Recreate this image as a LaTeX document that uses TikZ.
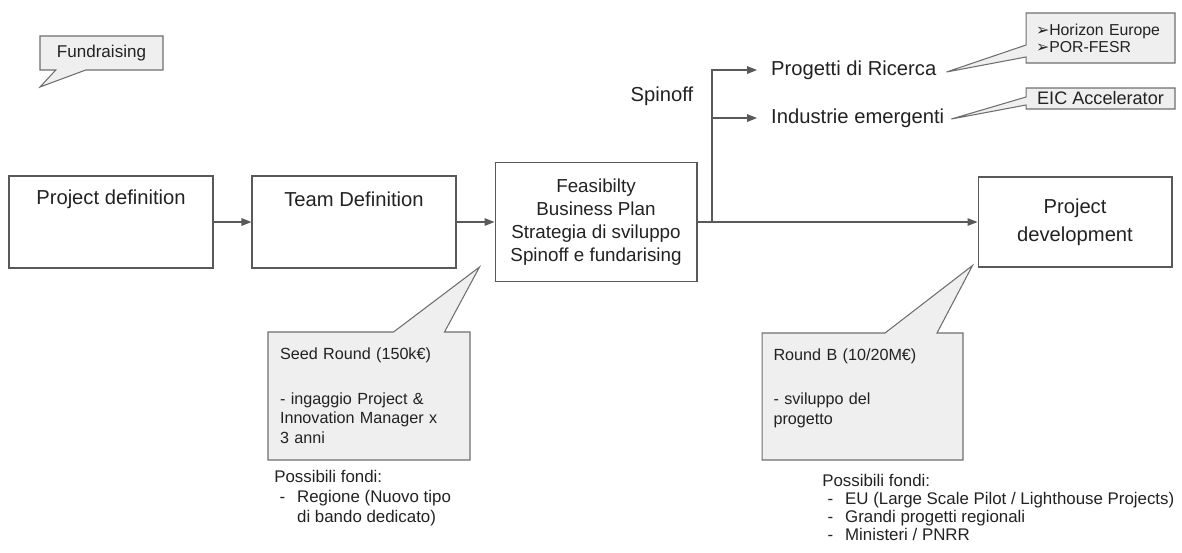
\documentclass[tikz,border=0pt]{standalone}
\usepackage{fontspec}
\setmainfont{Liberation Sans}
\newfontfamily\symfont{DejaVu Sans}
\usetikzlibrary{shapes.callouts,arrows.meta,calc}
\definecolor{edgegray}{HTML}{595959}
\definecolor{notefill}{HTML}{EFEFEF}
\definecolor{notedraw}{HTML}{6E6E6E}
\definecolor{inkgray}{HTML}{222222}
\newcommand{\voce}[1]{\makebox[13pt][l]{\hspace{3pt}-}#1}
\begin{document}
\begin{tikzpicture}[x=0.02cm, y=-0.02cm, text=inkgray,
      box/.style={rectangle,draw=edgegray,line width=0.6pt,minimum width=4.08cm,minimum height=1.84cm,inner sep=0pt},
      txt/.style={font=\fontsize{11.5}{14}\selectfont},
      note/.style={rectangle callout,draw=notedraw,fill=notefill,line width=0.6pt,inner sep=0pt},
      fondi/.style={anchor=north west,align=left,inner sep=0pt},
      arr/.style={-{Triangle[length=2mm,width=1.5mm]},draw=edgegray,line width=0.8pt}
    ]
      \useasboundingbox (0,0) rectangle (1182,552);

      \node[box] (pdef) at (111,222) {};
      \node[txt] (pdeftxt) at ($(pdef.north)+(0,24)$) {Project definition};
      \node[box] (team) at (354,222) {};
      \node[txt] (teamtxt) at ($(team.north)+(0,24)$) {Team Definition};
      \node[box,minimum width=4.04cm,minimum height=2.38cm,align=center,font=\fontsize{10.7}{13}\selectfont] (feas) at (596,222)
        {Feasibilty\\Business Plan\\Strategia di sviluppo\\Spinoff e fundarising};
      \node[box,minimum width=3.88cm,minimum height=1.8cm,align=center,font=\fontsize{11.5}{16}\selectfont] (pdev) at (1075,222)
        {Project\\development};

      \node[txt] (spinoff) at (662,96) {Spinoff};
      \coordinate (split) at (712,222);
      \node[txt,anchor=west] (ricerca) at (765,70) {Progetti di Ricerca};
      \node[txt,anchor=west] (industrie) at (765,118) {Industrie emergenti};

      \node[note,minimum width=2.46cm,minimum height=0.68cm,font=\fontsize{9.7}{12}\selectfont,
        callout absolute pointer={(40,87)},callout pointer width=0.6cm] (fund) at (101.5,53) {Fundraising};
      \node[note,minimum width=2.98cm,minimum height=1.0cm,text width=2.58cm,align=left,font=\fontsize{9}{9.8}\selectfont,
        callout absolute pointer={($(ricerca.east)+(4,2)$)},callout pointer width=0.24cm] (horizon) at (1100.5,38)
        {{\symfont ➢}Horizon Europe\\{\symfont ➢}POR-FESR};
      \node[note,minimum width=2.98cm,minimum height=0.42cm,font=\fontsize{10.3}{12}\selectfont,
        callout absolute pointer={($(industrie.east)+(1,1)$)},callout pointer width=0.16cm] (eic) at (1100.5,98.5) {EIC Accelerator};
      \node[note,minimum width=4.04cm,minimum height=2.56cm,text width=3.56cm,align=left,font=\fontsize{9.2}{11.2}\selectfont,
        callout absolute pointer={($(feas.south west)+(-15,-15)$)},callout pointer width=1.02cm] (seed) at (369,396)
        {Seed Round (150k€)\\[14pt]- ingaggio Project \&\\Innovation Manager x\\3 anni};
      \node[note,minimum width=4.02cm,minimum height=2.54cm,text width=3.56cm,align=left,font=\fontsize{9.2}{11.2}\selectfont,
        callout absolute pointer={($(pdev.south west)+(-5,-2)$)},callout pointer width=1.04cm] (roundb) at (862.5,396.5)
        {Round B (10/20M€)\\[14pt]- sviluppo del\\progetto\\\mbox{}};

      \node[fondi,font=\fontsize{9.6}{11.4}\selectfont] (fondiseed) at (274,470)
        {Possibili fondi:\\\voce{Regione (Nuovo tipo}\\\hspace*{13pt}di bando dedicato)};
      \node[fondi,font=\fontsize{9.6}{10.3}\selectfont] (fondiroundb) at (822,474)
        {Possibili fondi:\\\voce{EU (Large Scale Pilot / Lighthouse Projects)}\\\voce{Grandi progetti regionali}\\\voce{Ministeri / PNRR}};

      \draw[arr] (pdef) -- (team);
      \draw[arr] (team) -- (feas);
      \draw[arr] (feas) -- (pdev);
      \draw[arr,shorten >=4.5pt] (split) |- (ricerca.west);
      \draw[arr,shorten >=4.5pt] (split) |- (industrie.west);
    \end{tikzpicture}
\end{document}
